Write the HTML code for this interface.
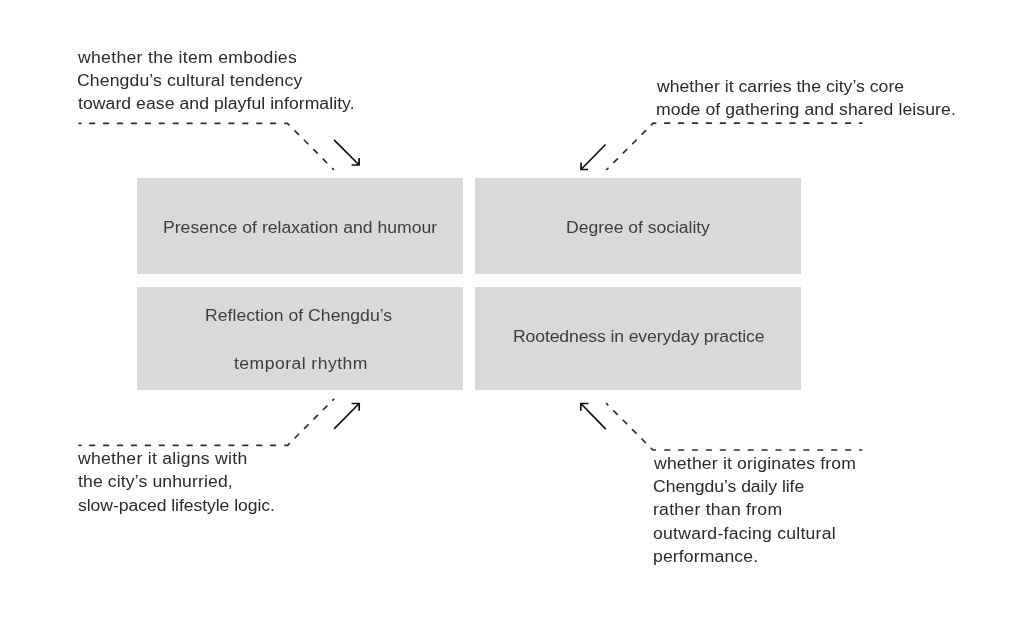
<!DOCTYPE html><html><head><meta charset="utf-8"><style>
html,body{margin:0;padding:0;background:#ffffff;}
#c{position:relative;width:1024px;height:622px;overflow:hidden;background:#ffffff;font-family:"Liberation Sans",sans-serif;}
.b{position:absolute;background:#d9d9d9;}
.t{position:absolute;white-space:nowrap;will-change:transform;transform-origin:0 0;font-size:16px;line-height:16px;}
svg{position:absolute;left:0;top:0;}
</style></head><body><div id="c">
<div class="b" style="left:137px;top:178px;width:326px;height:96px"></div>
<div class="b" style="left:475px;top:178px;width:326px;height:96px"></div>
<div class="b" style="left:137px;top:287px;width:326px;height:103px"></div>
<div class="b" style="left:475px;top:287px;width:326px;height:103px"></div>
<div class="t" id="t0" style="left:78.08px;top:50.00px;letter-spacing:0.282px;color:#2a2a2a;transform:scaleX(1.1)">whether the item embodies</div>
<div class="t" id="t1" style="left:77.34px;top:73.00px;letter-spacing:0.120px;color:#2a2a2a;transform:scaleX(1.1)">Chengdu’s cultural tendency</div>
<div class="t" id="t2" style="left:78.43px;top:96.00px;letter-spacing:0.051px;color:#2a2a2a;transform:scaleX(1.1)">toward ease and playful informality.</div>
<div class="t" id="t3" style="left:656.78px;top:79.00px;letter-spacing:0.026px;color:#2a2a2a;transform:scaleX(1.1)">whether it carries the city’s core</div>
<div class="t" id="t4" style="left:655.62px;top:102.00px;letter-spacing:0.084px;color:#2a2a2a;transform:scaleX(1.1)">mode of gathering and shared leisure.</div>
<div class="t" id="t5" style="left:78.30px;top:451.00px;letter-spacing:0.251px;color:#2a2a2a;transform:scaleX(1.1)">whether it aligns with</div>
<div class="t" id="t6" style="left:78.25px;top:474.00px;letter-spacing:0.111px;color:#2a2a2a;transform:scaleX(1.1)">the city’s unhurried,</div>
<div class="t" id="t7" style="left:77.76px;top:498.00px;letter-spacing:-0.058px;color:#2a2a2a;transform:scaleX(1.1)">slow-paced lifestyle logic.</div>
<div class="t" id="t8" style="left:653.70px;top:456.00px;letter-spacing:0.159px;color:#2a2a2a;transform:scaleX(1.1)">whether it originates from</div>
<div class="t" id="t9" style="left:652.96px;top:479.00px;letter-spacing:-0.053px;color:#2a2a2a;transform:scaleX(1.1)">Chengdu’s daily life</div>
<div class="t" id="t10" style="left:652.75px;top:502.00px;letter-spacing:0.233px;color:#2a2a2a;transform:scaleX(1.1)">rather than from</div>
<div class="t" id="t11" style="left:653.29px;top:526.00px;letter-spacing:0.231px;color:#2a2a2a;transform:scaleX(1.1)">outward-facing cultural</div>
<div class="t" id="t12" style="left:652.81px;top:549.00px;letter-spacing:0.112px;color:#2a2a2a;transform:scaleX(1.1)">performance.</div>
<div class="t" id="t13" style="left:163.28px;top:220.00px;letter-spacing:0.005px;color:#3d3d3d;transform:scaleX(1.1)">Presence of relaxation and humour</div>
<div class="t" id="t14" style="left:566.06px;top:220.00px;letter-spacing:-0.044px;color:#3d3d3d;transform:scaleX(1.1)">Degree of sociality</div>
<div class="t" id="t15" style="left:205.28px;top:308.00px;letter-spacing:0.024px;color:#3d3d3d;transform:scaleX(1.1)">Reflection of Chengdu’s</div>
<div class="t" id="t16" style="left:234.45px;top:356.00px;letter-spacing:0.404px;color:#3d3d3d;transform:scaleX(1.1)">temporal rhythm</div>
<div class="t" id="t17" style="left:512.58px;top:329.00px;letter-spacing:-0.114px;color:#3d3d3d;transform:scaleX(1.1)">Rootedness in everyday practice</div>
<svg width="1024" height="622" viewBox="0 0 1024 622">
<path d="M79.10,123.30H80.90 M89.85,123.30H94.55 M103.77,123.30H108.47 M117.69,123.30H122.39 M131.61,123.30H136.31 M145.53,123.30H150.23 M159.45,123.30H164.15 M173.37,123.30H178.07 M187.29,123.30H191.99 M201.21,123.30H205.91 M215.13,123.30H219.83 M229.05,123.30H233.75 M242.97,123.30H247.67 M256.89,123.30H261.59 M270.81,123.30H275.51 M284.90,123.3H287.4L289.00,124.90 M294.97,130.87L298.43,134.33 M304.37,140.27L307.84,143.74 M313.78,149.68L317.24,153.14 M323.18,159.08L326.64,162.54 M332.58,168.48L333.43,169.33 M79.10,445.30H80.90 M89.85,445.30H94.55 M103.77,445.30H108.47 M117.69,445.30H122.39 M131.61,445.30H136.31 M145.53,445.30H150.23 M159.45,445.30H164.15 M173.37,445.30H178.07 M187.29,445.30H191.99 M201.21,445.30H205.91 M215.13,445.30H219.83 M229.05,445.30H233.75 M242.97,445.30H247.67 M256.89,445.30H261.59 M270.81,445.30H275.51 M284.90,445.3H287.6L289.20,443.70 M295.17,437.73L298.63,434.27 M304.57,428.33L308.04,424.86 M313.98,418.92L317.44,415.46 M323.38,409.52L326.84,406.06 M332.78,400.12L333.63,399.27 M664.85,123.20H669.55 M678.77,123.20H683.47 M692.69,123.20H697.39 M706.61,123.20H711.31 M720.53,123.20H725.23 M734.45,123.20H739.15 M748.37,123.20H753.07 M762.29,123.20H766.99 M776.21,123.20H780.91 M790.13,123.20H794.83 M804.05,123.20H808.75 M817.97,123.20H822.67 M831.89,123.20H836.59 M845.81,123.20H850.51 M859.73,123.20H861.70 M651.40,124.90L653.1,123.2H655.60 M645.60,130.70L642.14,134.16 M636.20,140.10L632.74,143.56 M626.80,149.50L623.33,152.97 M617.39,158.91L613.93,162.37 M607.99,168.31L606.78,169.52 M664.85,450.00H669.55 M678.77,450.00H683.47 M692.69,450.00H697.39 M706.61,450.00H711.31 M720.53,450.00H725.23 M734.45,450.00H739.15 M748.37,450.00H753.07 M762.29,450.00H766.99 M776.21,450.00H780.91 M790.13,450.00H794.83 M804.05,450.00H808.75 M817.97,450.00H822.67 M831.89,450.00H836.59 M845.81,450.00H850.51 M859.73,450.00H861.70 M651.20,448.30L652.9,450.0H655.40 M645.40,442.50L641.94,439.04 M636.00,433.10L632.54,429.64 M626.60,423.70L623.13,420.23 M617.19,414.29L613.73,410.83 M607.79,404.89L606.58,403.68" fill="none" stroke="#2e2e2e" stroke-width="1.7" stroke-linecap="round" stroke-linejoin="round"/>
<path d="M334.1,139.9 L359.1,165 M351.6,165 H359.1 V157.9" fill="none" stroke="#111111" stroke-width="1.7" stroke-linecap="butt" stroke-linejoin="miter"/>
<path d="M605.5,144.5 L581,169.5 M581,162.5 V169.5 H588" fill="none" stroke="#111111" stroke-width="1.7" stroke-linecap="butt" stroke-linejoin="miter"/>
<path d="M334.1,428.9 L359.2,403.5 M351.6,403.5 H359.2 V410.7" fill="none" stroke="#111111" stroke-width="1.7" stroke-linecap="butt" stroke-linejoin="miter"/>
<path d="M605.8,429.1 L580.8,403.5 M588.4,403.5 H580.8 V410.7" fill="none" stroke="#111111" stroke-width="1.7" stroke-linecap="butt" stroke-linejoin="miter"/>
</svg>
</div></body></html>
